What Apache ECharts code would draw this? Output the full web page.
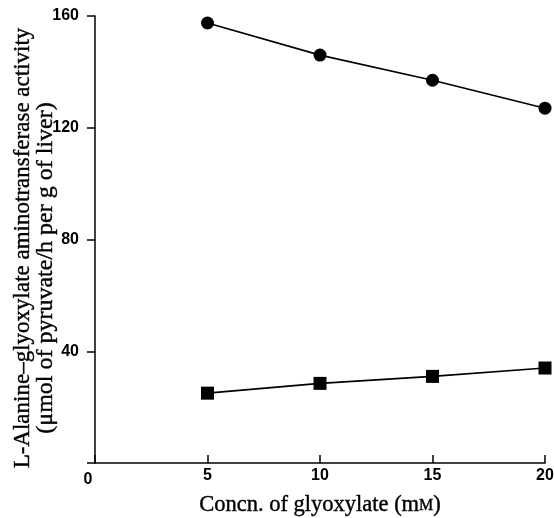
<!DOCTYPE html>
<html><head><meta charset="utf-8">
<script src="https://cdn.jsdelivr.net/npm/echarts@6/dist/echarts.min.js"></script>
<style>html,body{margin:0;padding:0;background:#fff}#c{width:554px;height:518px}</style>
</head><body><div id="c"></div>
<script>
const concentrations = [5, 10, 15, 20];
const circleSeries = [157.5, 146, 137, 127];
const squareSeries = [25, 28.5, 31, 34];
const xTicks = [0, 5, 10, 15, 20];
const yTicks = [0, 40, 80, 120, 160];
const yTitleLines = ['L-Alanine–glyoxylate aminotransferase activity', '(μmol of pyruvate/h per g of liver)'];

const chart = echarts.init(document.getElementById('c'), null, {renderer: 'canvas'});
const pair = (xs, ys) => xs.map((x, i) => [x, ys[i]]);
const tickFont = {color: '#000', fontFamily: 'Liberation Sans', fontWeight: 'bold', fontSize: 16};
const titleStyle = (text, size) => ({text: text, fill: '#000', font: size + 'px "Liberation Serif"',
  textAlign: 'center', textVerticalAlign: 'middle', stroke: '#000', lineWidth: 0.4});
chart.setOption({
  animation: false,
  backgroundColor: '#fff',
  grid: {left: 95, right: 9, top: 16, bottom: 55, containLabel: false, outerBoundsMode: 'none'},
  graphic: [
    {type: 'text', x: 23, y: 248, rotation: Math.PI / 2, style: titleStyle(yTitleLines[0], 23)},
    {type: 'text', x: 46, y: 268, rotation: Math.PI / 2, style: titleStyle(yTitleLines[1], 24)}
  ],
  xAxis: {
    type: 'value', min: xTicks[0], max: xTicks[xTicks.length - 1], interval: 5,
    axisLine: {show: true, onZero: false, lineStyle: {color: '#000', width: 1.5}},
    axisTick: {show: true, inside: true, length: 8, lineStyle: {color: '#000', width: 1.5}},
    splitLine: {show: false},
    axisLabel: Object.assign({}, tickFont, {
      margin: 5,
      formatter: v => v === 0 ? '{z|0}' : String(v),
      rich: {z: Object.assign({}, tickFont, {padding: [4, 14, 0, 0]})}
    }),
    name: '{a|Concn. of glyoxylate (m}{b|M}{a|)}',
    nameLocation: 'middle', nameGap: 31,
    nameTextStyle: {
      rich: {
        a: {fontFamily: 'Liberation Serif', fontSize: 22.5, color: '#000', textBorderColor: '#000', textBorderWidth: 0.4},
        b: {fontFamily: 'Liberation Serif', fontSize: 16, color: '#000', textBorderColor: '#000', textBorderWidth: 0.4}
      }
    }
  },
  yAxis: {
    type: 'value', min: yTicks[0], max: yTicks[yTicks.length - 1], interval: 40,
    axisLine: {show: true, onZero: false, lineStyle: {color: '#000', width: 1.5}},
    axisTick: {show: true, inside: false, length: 8, lineStyle: {color: '#000', width: 1.5}},
    splitLine: {show: false},
    axisLabel: Object.assign({}, tickFont, {
      margin: 16,
      formatter: v => v === 0 ? '' : String(v)
    })
  },
  series: [
    {
      type: 'line', data: pair(concentrations, circleSeries),
      symbol: 'circle', symbolSize: 13,
      lineStyle: {color: '#000', width: 1.6}, itemStyle: {color: '#000'}
    },
    {
      type: 'line', data: pair(concentrations, squareSeries),
      symbol: 'rect', symbolSize: 13,
      lineStyle: {color: '#000', width: 1.6}, itemStyle: {color: '#000'}
    }
  ]
});
</script></body></html>
